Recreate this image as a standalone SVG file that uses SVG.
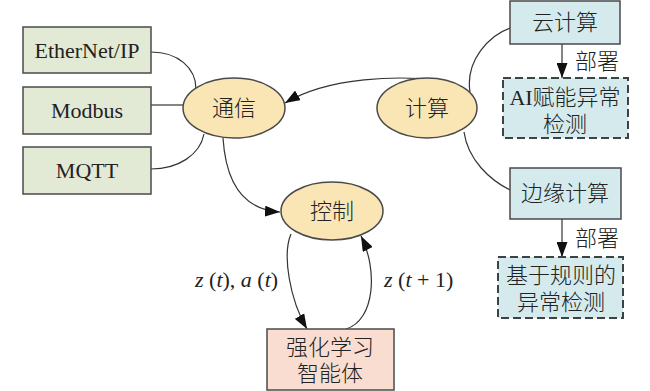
<svg xmlns="http://www.w3.org/2000/svg" width="650" height="391" viewBox="0 0 650 391">
<defs>
<style>
.box{stroke:#4a4a4a;stroke-width:1.5}
.g{fill:#e2ead5}
.y{fill:#fae6b4}
.b{fill:#d4eaed}
.p{fill:#f9ddd0}
.d{stroke:#3a4444;stroke-width:2;stroke-dasharray:8 4;fill:#d4eaed}
.t{font-family:"Liberation Serif","Noto Sans CJK SC",serif;font-size:22px;font-weight:300;fill:#222;text-anchor:middle}
.lab{font-family:"Liberation Serif","Noto Sans CJK SC",serif;font-size:22px;font-weight:300;fill:#222}
.c{fill:none;stroke:#333;stroke-width:1.2}
</style>
<marker id="ah" viewBox="0 0 15 11" refX="15" refY="5.5" markerWidth="15" markerHeight="11" markerUnits="userSpaceOnUse" orient="auto">
<path d="M0,0 L15,5.5 L0,11 Z" fill="#111"/>
</marker>
</defs>
<rect width="650" height="391" fill="#fff"/>
<g id="connectors">
<path class="c" d="M151,52 C178,52 196,68 196,89"/>
<path class="c" d="M151,105 L183,105"/>
<path class="c" d="M151,169 C178,169 200,155 204,134"/>
<path class="c" d="M438,80 C400,76 330,76 285,103" marker-end="url(#ah)"/>
<path class="c" d="M223,138 C226,185 245,210 280,212" marker-end="url(#ah)"/>
<path class="c" d="M291,234 C282,255 290,300 307,329" marker-end="url(#ah)"/>
<path class="c" d="M346,329 C375,320 378,270 361,236" marker-end="url(#ah)"/>
<path class="c" d="M470,92 C465,60 490,35 510,28"/>
<path class="c" d="M464,132 C468,160 490,180 510,190"/>
<path class="c" d="M562,44 L562,78" marker-end="url(#ah)"/>
<path class="c" d="M562,219 L562,257" marker-end="url(#ah)"/>
<text class="lab" x="575" y="69">部署</text>
<text class="lab" x="575" y="246">部署</text>
<text class="lab" x="195" y="287"><tspan font-style="italic">z</tspan> (<tspan font-style="italic">t</tspan>), <tspan font-style="italic">a</tspan> (<tspan font-style="italic">t</tspan>)</text>
<text class="lab" x="384" y="287"><tspan font-style="italic">z</tspan> (<tspan font-style="italic">t</tspan> + 1)</text>
</g>
<g id="ethernet"><rect class="box g" x="23" y="27" width="128" height="46"/><text class="t" x="87" y="58">EtherNet/IP</text></g>
<g id="modbus"><rect class="box g" x="23" y="87" width="128" height="47"/><text class="t" x="87" y="118">Modbus</text></g>
<g id="mqtt"><rect class="box g" x="23" y="147" width="128" height="47"/><text class="t" x="87" y="178">MQTT</text></g>
<g id="comm"><ellipse class="box y" cx="234" cy="108" rx="51" ry="30"/><text class="t" x="234" y="116">通信</text></g>
<g id="compute"><ellipse class="box y" cx="427" cy="108" rx="50" ry="30"/><text class="t" x="427" y="116">计算</text></g>
<g id="control"><ellipse class="box y" cx="332" cy="211" rx="51" ry="29"/><text class="t" x="332" y="219">控制</text></g>
<g id="cloud"><rect class="box b" x="510" y="1" width="110" height="43"/><text class="t" x="565" y="30">云计算</text></g>
<g id="ai"><rect class="d" x="503" y="78" width="125" height="60"/><text class="t" x="565" y="105">AI赋能异常</text><text class="t" x="565" y="132">检测</text></g>
<g id="edge"><rect class="box b" x="510" y="168" width="111" height="51"/><text class="t" x="565" y="201">边缘计算</text></g>
<g id="rule"><rect class="d" x="498" y="257" width="125" height="61"/><text class="t" x="561" y="283">基于规则的</text><text class="t" x="561" y="310">异常检测</text></g>
<g id="agent"><rect class="box p" x="267" y="329" width="127" height="61"/><text class="t" x="330" y="355">强化学习</text><text class="t" x="330" y="381">智能体</text></g>
</svg>
